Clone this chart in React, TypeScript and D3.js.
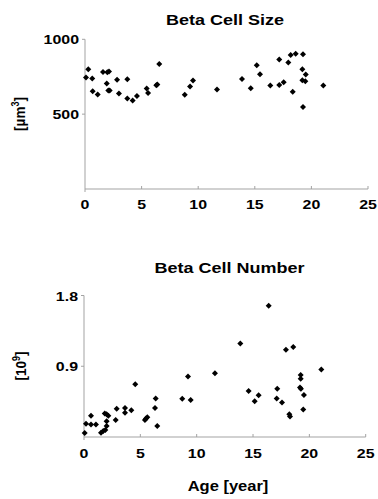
import React from "react";
import * as d3 from "d3";

// Beta cell size (top panel): age [year], size [µm³]
const sizeAge = [0.09, 0.29, 0.64, 0.68, 1.12, 1.59, 1.92, 1.97, 2.12, 2.06, 2.18, 2.83, 3.0, 3.74, 3.74, 4.21, 4.59, 5.45, 5.57, 6.3, 6.39, 6.56, 8.81, 9.28, 9.54, 11.66, 13.87, 14.64, 15.17, 15.46, 16.37, 17.16, 17.16, 17.55, 17.96, 18.17, 18.61, 18.35, 19.26, 19.2, 19.2, 19.26, 19.5, 19.46, 21.05];
const sizeValue = [745, 800, 738, 653, 631, 782, 705, 780, 785, 658, 658, 729, 638, 733, 605, 591, 622, 671, 642, 693, 698, 835, 629, 685, 725, 665, 735, 673, 827, 767, 691, 865, 695, 713, 845, 895, 904, 649, 900, 800, 727, 547, 765, 720, 691];

// Beta cell number (bottom panel): age [year], number [10^9]
const numberAge = [0.06, 0.18, 0.62, 0.62, 1.06, 1.51, 1.71, 1.89, 2.01, 2.01, 1.84, 2.01, 2.16, 2.81, 2.9, 3.64, 3.64, 4.2, 4.55, 5.41, 5.5, 5.62, 6.3, 6.36, 6.5, 8.72, 9.23, 9.47, 11.62, 13.87, 14.61, 15.15, 15.5, 16.39, 17.15, 17.1, 17.57, 17.92, 18.22, 18.28, 18.57, 19.23, 19.23, 19.17, 19.25, 19.52, 19.46, 21.06];
const numberValue = [0.05, 0.17, 0.16, 0.27, 0.16, 0.055, 0.076, 0.09, 0.14, 0.2, 0.3, 0.29, 0.27, 0.215, 0.36, 0.31, 0.37, 0.34, 0.67, 0.215, 0.235, 0.25, 0.37, 0.49, 0.14, 0.485, 0.77, 0.47, 0.81, 1.19, 0.585, 0.455, 0.53, 1.67, 0.615, 0.49, 0.44, 1.11, 0.29, 0.26, 1.145, 0.79, 0.74, 0.63, 0.615, 0.535, 0.35, 0.86];

const xTicks = [0, 5, 10, 15, 20, 25];
const sizeTicks = [500, 1000];
const sizeTickLabels = ["500", "1000"];
const numberTicks = [0.9, 1.8];
const numberTickLabels = ["0.9", "1.8"];

const FONT = "'Liberation Sans', Arial, sans-serif";
const AXIS = "#a3a3a3";

function T({ x, y, size, sx = 1.2, anchor = "middle", children, rotate = 0 }: any) {
  const tr = rotate
    ? `translate(${x},${y}) rotate(${rotate}) scale(1,${sx})`
    : `translate(${x},${y}) scale(${sx},1)`;
  return (
    <text transform={tr} textAnchor={anchor} fontFamily={FONT} fontWeight="bold" fontSize={size} fill="#000">
      {children}
    </text>
  );
}

function diamond(cx: number, cy: number, r = 3) {
  return `M${cx},${cy - r}L${cx + r},${cy}L${cx},${cy + r}L${cx - r},${cy}Z`;
}

function Panel({ xs, ys, ages, values, yTicks, yTickLabels, xLabelBase, title, titleX, titleY, yLabel, yLabelX, yLabelY }: any) {
  const [x0] = xs.range();
  const [y0, y1] = ys.range();
  return (
    <g>
      <T x={titleX} y={titleY} size={15}>{title}</T>
      {/* y axis */}
      <line x1={x0} x2={x0} y1={y1} y2={y0 + 3} stroke={AXIS} strokeWidth={1} />
      {yTicks.map((t: number, i: number) => (
        <g key={i}>
          <line x1={x0 - 3} x2={x0} y1={ys(t)} y2={ys(t)} stroke={AXIS} />
          <T x={x0 - 6} y={ys(t) + 5} size={13.5} anchor="end" sx={1.18}>{yTickLabels[i]}</T>
        </g>
      ))}
      {/* x axis */}
      <line x1={x0} x2={xs(25)} y1={y0} y2={y0} stroke={AXIS} strokeWidth={1} />
      {xTicks.map((t: number) => (
        <g key={t}>
          {t > 0 && <line x1={xs(t)} x2={xs(t)} y1={y0 - 3} y2={y0} stroke={AXIS} />}
          <T x={xs(t)} y={xLabelBase} size={13.5} sx={1.18}>{String(t)}</T>
        </g>
      ))}
      <T x={yLabelX} y={yLabelY} size={13.5} rotate={-90} sx={1.15}>{yLabel}</T>
      {ages.map((a: number, i: number) => (
        <path key={i} d={diamond(xs(a), ys(values[i]))} fill="#000" />
      ))}
    </g>
  );
}

export default function App() {
  const xsTop = d3.scaleLinear().domain([0, 25]).range([85, 368]);
  const ysTop = d3.scaleLinear().domain([0, 1000]).range([189, 39.3]);
  const xsBot = d3.scaleLinear().domain([0, 25]).range([84, 365.7]);
  const ysBot = d3.scaleLinear().domain([0, 1.8]).range([437, 295.5]);
  return (
    <svg width={378} height={499} style={{ position: "absolute", left: 0, top: 0, background: "#fff" }}>
      <rect width={378} height={499} fill="#fff" />
      <Panel
        xs={xsTop} ys={ysTop} ages={sizeAge} values={sizeValue}
        yTicks={sizeTicks} yTickLabels={sizeTickLabels} xLabelBase={209}
        title="Beta Cell Size" titleX={225} titleY={25}
        yLabel={<>[µm<tspan dy={-5} fontSize={9}>3</tspan><tspan dy={5}>]</tspan></>}
        yLabelX={25} yLabelY={114}
      />
      <Panel
        xs={xsBot} ys={ysBot} ages={numberAge} values={numberValue}
        yTicks={numberTicks} yTickLabels={numberTickLabels} xLabelBase={458}
        title="Beta Cell Number" titleX={229.5} titleY={273}
        yLabel={<>[10<tspan dy={-5} fontSize={9}>9</tspan><tspan dy={5}>]</tspan></>}
        yLabelX={26} yLabelY={366}
      />
      <T x={228} y={490.5} size={14} sx={1.18}>Age [year]</T>
    </svg>
  );
}
